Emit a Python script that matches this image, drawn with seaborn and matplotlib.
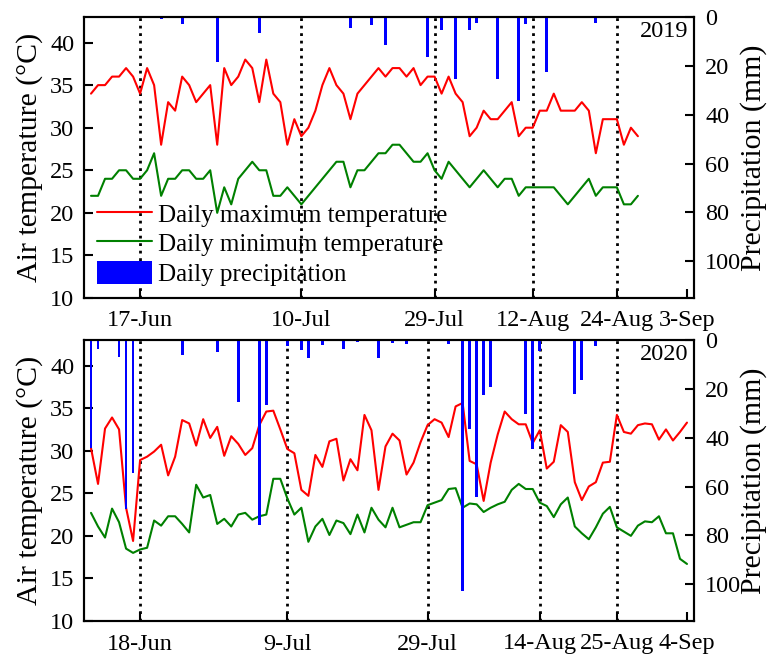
import numpy as np
import pandas as pd
import matplotlib
matplotlib.use("Agg")
import matplotlib.pyplot as plt
import seaborn as sns
from matplotlib.lines import Line2D
from matplotlib.patches import Patch

# ---------------- data ----------------
start_2019 = "2019-06-10"
tmax_2019 = [34, 35, 35, 36, 36, 37, 36, 34, 37, 35,
             28, 33, 32, 36, 35, 33, 34, 35, 28, 37,
             35, 36, 38, 37, 33, 38, 34, 33, 28, 31,
             29, 30, 32, 35, 37, 35, 34, 31, 34, 35,
             36, 37, 36, 37, 37, 36, 37, 35, 36, 36,
             34, 36, 34, 33, 29, 30, 32, 31, 31, 32,
             33, 29, 30, 30, 32, 32, 34, 32, 32, 32,
             33, 32, 27, 31, 31, 31, 28, 30, 29]
tmin_2019 = [22, 22, 24, 24, 25, 25, 24, 24, 25, 27,
             22, 24, 24, 25, 25, 24, 24, 25, 20, 23,
             21, 24, 25, 26, 25, 25, 22, 22, 23, 22,
             21, 22, 23, 24, 25, 26, 26, 23, 25, 25,
             26, 27, 27, 28, 28, 27, 26, 26, 27, 25,
             24, 26, 25, 24, 23, 24, 25, 24, 23, 24,
             24, 22, 23, 23, 23, 23, 23, 22, 21, 22,
             23, 24, 22, 23, 23, 23, 21, 21, 22]
rain_dates_2019 = ["2019-06-20", "2019-06-23", "2019-06-28", "2019-07-04", "2019-07-11",
                   "2019-07-17", "2019-07-20", "2019-07-22", "2019-07-28", "2019-07-30",
                   "2019-08-01", "2019-08-03", "2019-08-04", "2019-08-07", "2019-08-10",
                   "2019-08-11", "2019-08-14", "2019-08-21"]
rain_mm_2019 = [1.0, 3.0, 18.5, 6.7, 0.5,
                4.6, 3.3, 11.4, 16.4, 5.2,
                25.5, 5.3, 2.5, 25.5, 34.5,
                2.8, 22.5, 2.3]
ticks_2019 = ["2019-06-17", "2019-07-10", "2019-07-29", "2019-08-12", "2019-08-24", "2019-09-03"]
ticklabels_2019 = ["17-Jun", "10-Jul", "29-Jul", "12-Aug", "24-Aug", "3-Sep"]
xlim_2019 = ("2019-06-09", "2019-09-04")

start_2020 = "2020-06-11"
tmax_2020 = [30.3, 26.1, 32.6, 33.9, 32.5, 23.3, 19.4, 28.9, 29.3, 29.9,
             30.7, 27.1, 29.3, 33.6, 33.2, 30.6, 33.7, 31.5, 32.8, 29.4,
             31.7, 30.8, 29.5, 30.3, 33.0, 34.6, 34.7, 32.5, 30.2, 29.7,
             25.4, 24.7, 29.5, 28.1, 31.1, 31.4, 26.5, 29.0, 27.7, 34.2,
             32.4, 25.4, 30.5, 32.0, 31.2, 27.2, 28.6, 31.0, 33.0, 33.7,
             33.3, 31.6, 35.2, 35.6, 28.8, 28.4, 24.1, 28.6, 31.9, 34.6,
             33.7, 33.1, 33.1, 30.9, 32.4, 27.9, 28.7, 33.0, 32.2, 26.3,
             24.2, 25.8, 26.3, 28.6, 28.7, 34.2, 32.2, 32.0, 33.0, 33.2,
             33.1, 31.3, 32.5, 31.2, 32.2, 33.3]
tmin_2020 = [22.7, 21.1, 19.8, 23.2, 21.6, 18.5, 18.0, 18.4, 18.6, 21.8,
             21.2, 22.3, 22.3, 21.4, 20.4, 26.0, 24.5, 24.8, 21.4, 22.0,
             21.1, 22.5, 22.7, 21.9, 22.3, 22.5, 26.7, 26.7, 24.4, 22.5,
             23.3, 19.3, 21.1, 22.0, 20.1, 21.8, 21.5, 20.2, 22.5, 20.4,
             23.3, 21.9, 21.0, 23.3, 21.0, 21.3, 21.6, 21.6, 23.6, 23.9,
             24.2, 25.5, 25.6, 23.3, 23.8, 23.7, 22.8, 23.3, 23.7, 24.0,
             25.4, 26.1, 25.5, 25.5, 23.9, 23.5, 22.2, 23.7, 24.5, 21.1,
             20.3, 19.6, 21.0, 22.6, 23.4, 21.0, 20.5, 20.0, 21.2, 21.7,
             21.6, 22.3, 20.3, 20.3, 17.3, 16.7]
rain_dates_2020 = ["2020-06-11", "2020-06-12", "2020-06-15", "2020-06-16", "2020-06-17",
                   "2020-06-24", "2020-06-29", "2020-07-02", "2020-07-05", "2020-07-06",
                   "2020-07-09", "2020-07-11", "2020-07-12", "2020-07-14", "2020-07-15",
                   "2020-07-17", "2020-07-19", "2020-07-22", "2020-07-24", "2020-07-26",
                   "2020-08-01", "2020-08-03", "2020-08-04", "2020-08-05", "2020-08-06",
                   "2020-08-07", "2020-08-12", "2020-08-13", "2020-08-14", "2020-08-15",
                   "2020-08-16", "2020-08-19", "2020-08-20", "2020-08-22"]
rain_mm_2020 = [44.4, 3.7, 6.9, 69.0, 54.6,
                6.2, 5.1, 25.2, 75.6, 26.6,
                2.3, 4.2, 7.4, 1.9, 0.5,
                3.6, 0.8, 7.2, 1.3, 1.6,
                1.5, 102.6, 36.6, 64.3, 22.5,
                19.4, 30.2, 44.5, 4.7, 0.5,
                0.4, 22.3, 16.5, 2.5]
ticks_2020 = ["2020-06-18", "2020-07-09", "2020-07-29", "2020-08-14", "2020-08-25", "2020-09-04"]
ticklabels_2020 = ["18-Jun", "9-Jul", "29-Jul", "14-Aug", "25-Aug", "4-Sep"]
xlim_2020 = ("2020-06-10", "2020-09-05")

temp_ticks = [10, 15, 20, 25, 30, 35, 40]
rain_ticks = [0, 20, 40, 60, 80, 100]
series_labels = ["Daily maximum temperature", "Daily minimum temperature", "Daily precipitation"]

# ---------------- style ----------------
sns.set_theme(style="ticks")
plt.rcParams["font.family"] = ["Liberation Serif", "DejaVu Serif"]
plt.rcParams["axes.linewidth"] = 1.5
for key in ("text.color", "axes.labelcolor", "xtick.color", "ytick.color", "axes.edgecolor"):
    plt.rcParams[key] = "black"

W, H = 767, 659
fig = plt.figure(figsize=(W / 100, H / 100), dpi=100)
ax_top = fig.add_axes([84 / W, 1 - 298 / H, 610 / W, 281 / H])
ax_bot = fig.add_axes([84 / W, 1 - 621 / H, 610 / W, 281 / H])

LW = 1.5
TICK_FS = 17.5
LABEL_FS = 21.5


def doy(dates):
    return pd.to_datetime(pd.Series(dates)).dt.dayofyear.to_numpy()


def panel(ax, year, start, tmax, tmin, rain_dates, rain_mm, ticks, ticklabels, xlim):
    days = pd.date_range(start, periods=len(tmax), freq="D")
    df = pd.DataFrame({"doy": days.dayofyear, "tmax": tmax, "tmin": tmin})
    sns.lineplot(data=df, x="doy", y="tmax", color="red", lw=LW, ax=ax)
    sns.lineplot(data=df, x="doy", y="tmin", color="green", lw=LW, ax=ax)

    ax2 = ax.twinx()
    rain = pd.DataFrame({"doy": doy(rain_dates), "mm": rain_mm})
    sns.barplot(data=rain, x="doy", y="mm", native_scale=True, width=0.4,
                color="blue", saturation=1, errorbar=None, linewidth=0,
                orient="x", ax=ax2)

    tick_pos = doy(ticks)
    for x in tick_pos[:-1]:
        ax.axvline(x, color="black", lw=2.0, linestyle=(0, (1, 1.7)), zorder=1)

    ax.set_xticks(tick_pos)
    ax.set_xticklabels(ticklabels)
    ax.set_ylim(10, 43)
    ax.set_yticks(temp_ticks)
    ax.set_xlabel("")
    ax.set_ylabel("Air temperature (\u00b0C)", fontsize=LABEL_FS, labelpad=5)
    ax.tick_params(axis="both", direction="in", length=6.5, width=1.5,
                   labelsize=TICK_FS, colors="black")
    ax.tick_params(axis="y", pad=7, left=True, right=False)
    ax.tick_params(axis="x", pad=9, bottom=True, top=False)

    ax2.set_ylim(115, 0)
    ax2.set_yticks(rain_ticks)
    ax2.set_xlabel("")
    ax2.set_ylabel("Precipitation (mm)", fontsize=LABEL_FS, labelpad=-1)
    ax2.tick_params(axis="y", direction="in", length=6.5, width=1.5,
                    labelsize=TICK_FS, pad=8, right=True, left=False)
    ax.set_xlim(doy([xlim[0]])[0], doy([xlim[1]])[0])

    for a in (ax, ax2):
        for s in a.spines.values():
            s.set_linewidth(1.5)
            s.set_color("black")
            s.set_visible(True)

    ax.text(0.99, 0.985, year, transform=ax.transAxes, ha="right", va="top",
            fontsize=17.5)
    return ax2


panel(ax_top, "2019", start_2019, tmax_2019, tmin_2019, rain_dates_2019, rain_mm_2019,
      ticks_2019, ticklabels_2019, xlim_2019)
panel(ax_bot, "2020", start_2020, tmax_2020, tmin_2020, rain_dates_2020, rain_mm_2020,
      ticks_2020, ticklabels_2020, xlim_2020)

handles = [Line2D([], [], color="red", lw=LW),
           Line2D([], [], color="green", lw=LW),
           Patch(facecolor="blue", edgecolor="none")]
ax_top.legend(handles, series_labels, loc="upper left", bbox_to_anchor=(0.021, 0.342),
              frameon=False, fontsize=18, handlelength=2.2, handleheight=1.05,
              handletextpad=0.25, labelspacing=0.17, borderpad=0, borderaxespad=0)

fig.savefig("out.png", dpi=100)
